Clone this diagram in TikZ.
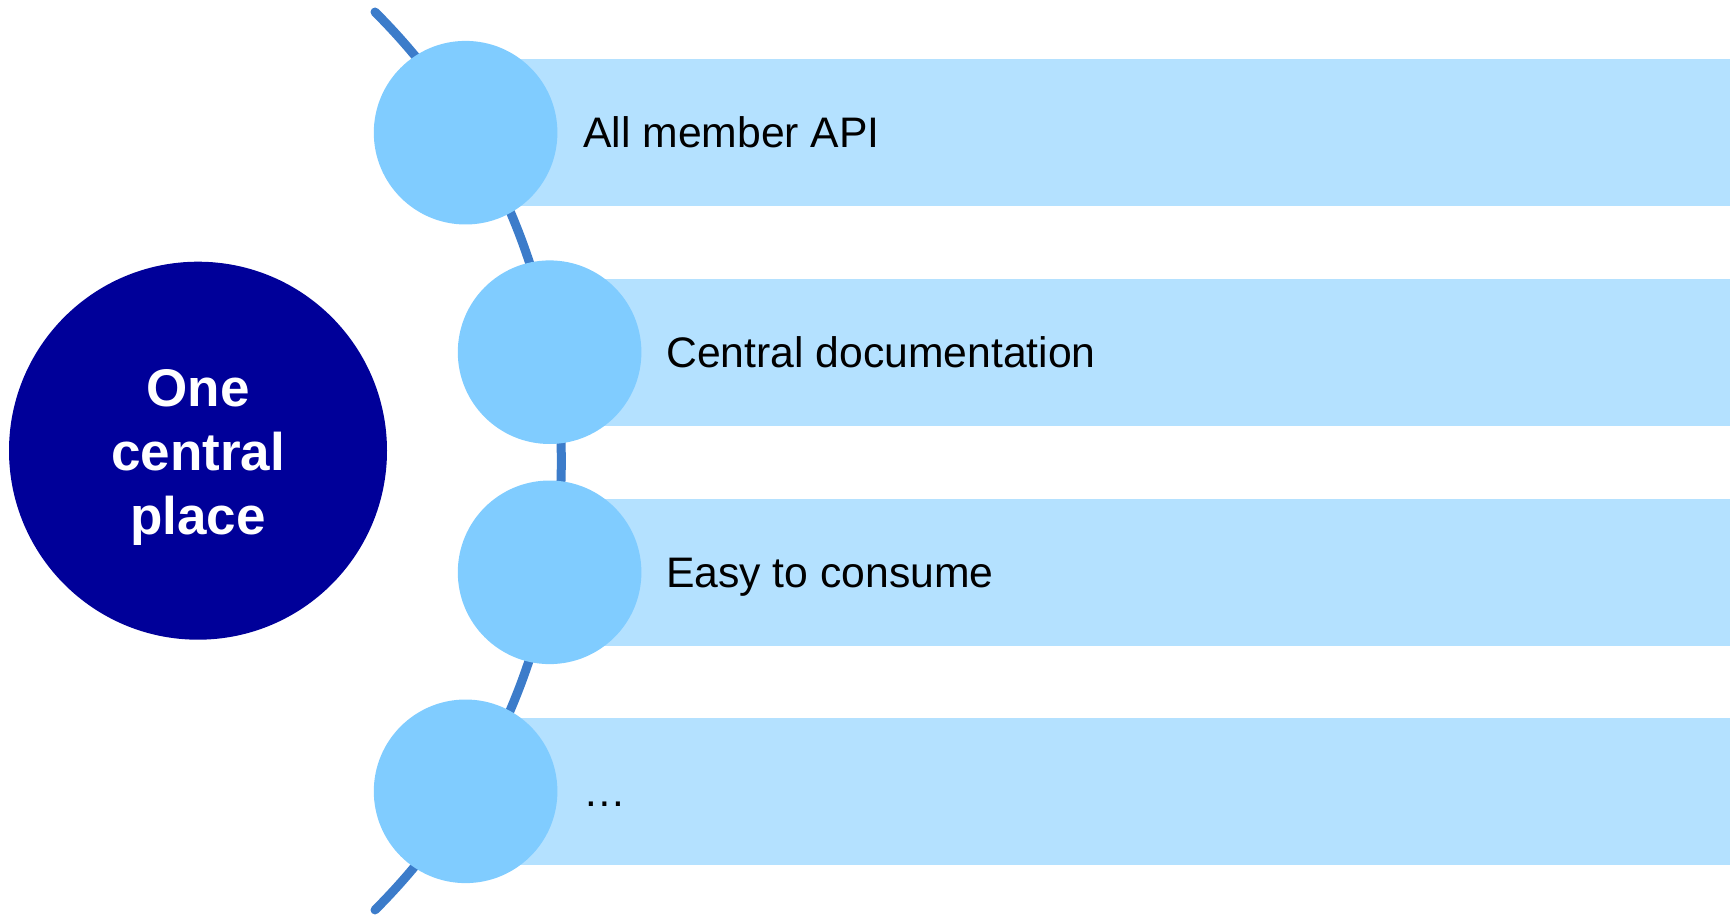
\documentclass[tikz,border=0pt]{standalone}
\usepackage{fontspec}
\setmainfont{Liberation Sans}
\definecolor{navy}{RGB}{0,0,153}
\definecolor{arcblue}{RGB}{60,124,202}
\definecolor{dotblue}{RGB}{128,204,255}
\definecolor{barblue}{RGB}{180,225,255}
\tikzset{
  hub/.style={circle, fill=navy, draw=none, minimum size=378pt, inner sep=0pt},
  hubtext/.style={text=white, align=center, inner sep=0pt,
    font=\fontsize{53}{64}\selectfont\bfseries},
  bullet/.style={circle, fill=dotblue, draw=none, minimum size=183.6pt, inner sep=0pt},
  bar/.style={rectangle, fill=barblue, draw=none, anchor=west,
    minimum height=147pt, inner sep=0pt},
  item/.style={anchor=base west, inner sep=0pt, text=black,
    font=\fontsize{42.7}{50}\selectfont},
  spine/.style={draw=arcblue, line width=9pt, line cap=round},
}
\begin{document}
\begin{tikzpicture}[x=1pt, y=-1pt]
  \useasboundingbox (0,0) rectangle (1734,917);

  % curved spine behind the list (y axis points down, so angles run clockwise)
  \coordinate (spinetop) at (375,12);
  \draw[spine] (spinetop) arc[start angle=-45.07, end angle=45.07, radius=634.2];

  % bars
  \node[bar, minimum width=1264.4pt] (r1) at (465.6,132.7) {};
  \node[bar, minimum width=1180.4pt] (r2) at (549.6,352.2) {};
  \node[bar, minimum width=1180.4pt] (r3) at (549.6,572.3) {};
  \node[bar, minimum width=1264.4pt] (r4) at (465.6,791.3) {};

  % bullets on the spine
  \node[bullet] (c1) at (465.6,132.7) {};
  \node[bullet] (c2) at (549.6,352.2) {};
  \node[bullet] (c3) at (549.6,572.3) {};
  \node[bullet] (c4) at (465.6,791.3) {};

  % item labels
  \node[item] (t1) at (583,147.5) {All member API};
  \node[item] (t2) at (666,367.3) {Central documentation};
  \node[item] (t3) at (666,587.3) {Easy to consume};
  \node[item] (t4) at (583,806.3) {…};

  % central hub
  \node[hub] (hub) at (198,450.7) {};
  \node[hubtext] (hubtext) at (198,457.2) {One\\central\\place};
\end{tikzpicture}
\end{document}
